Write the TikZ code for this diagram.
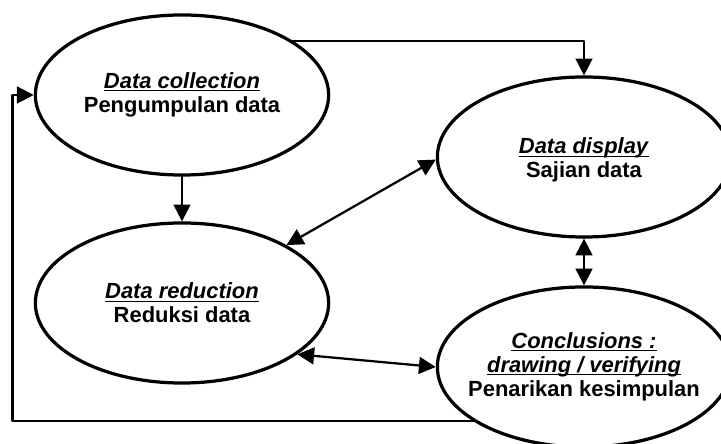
\documentclass[tikz,border=0pt]{standalone}
\usepackage{fontspec}
\setmainfont{Liberation Sans}
\usepackage{tikz}
\usetikzlibrary{shapes.geometric}
\usetikzlibrary{arrows.meta}
\newcommand{\eng}[1]{\underbar{\textit{#1}}}
\tikzstyle{every node}=[font=\fontsize{15.6}{17}\selectfont\bfseries]
\tikzstyle{stage}=[draw,ellipse,line width=2.3pt,minimum width=7.33cm,minimum height=4cm,inner sep=0pt]
\tikzstyle{stagetext}=[align=center,inner sep=0pt]
\tikzstyle{flow}=[line width=1.6pt]

\begin{document}
\begin{tikzpicture}[line cap=round,line join=round,>={Triangle[length=0.42cm,width=0.42cm]},x=0.025cm,y=0.025cm]
            \useasboundingbox (0,0) rectangle (721,444);
            \clip (0,0) rectangle (721,444);
            % the four stages
            \node[stage] (coll) at (182,349) {};
            \node[stage] (red) at (182,141) {};
            \node[stage] (disp) at (584,287) {};
            \node[stage] (conc) at (584,77) {};
            \node[stagetext] (colltxt) at (coll) {\eng{Data collection}\\Pengumpulan data};
            \node[stagetext] (redtxt) at (red) {\eng{Data reduction}\\Reduksi data};
            \node[stagetext] (disptxt) at ([yshift=-0.08cm]disp) {\eng{Data display}\\Sajian data};
            \node[stagetext] (conctxt) at (conc) {\eng{Conclusions :}\\\eng{drawing / verifying}\\Penarikan kesimpulan};
            \coordinate (loop) at (12.5,349);
            % connectors
            \draw [->,flow] (coll.26) -| (disp.north);
            \draw [->,flow] (coll.south) -- (red.north);
            \draw [<->,flow] (red.29) -- (disp.181);
            \draw [<->,flow] (disp.south) -- (conc.north);
            \draw [<->,flow] (red.336) -- (conc.west);
            \draw [->,flow] (conc.206) -| (loop) -- (coll.west);
            \end{tikzpicture}
\end{document}
